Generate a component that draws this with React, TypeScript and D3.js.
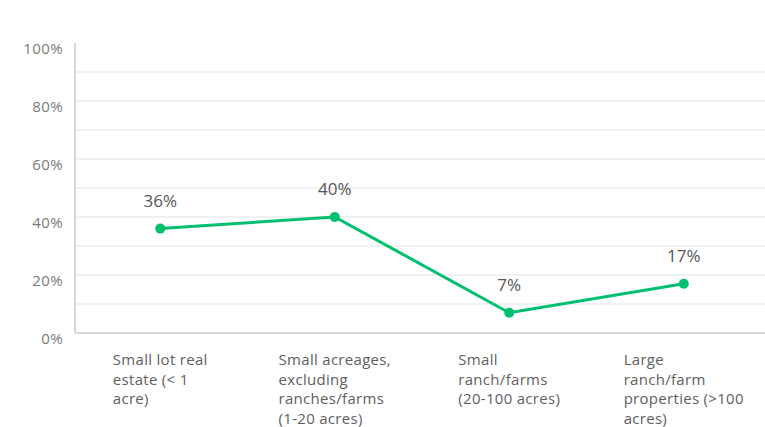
import * as d3 from "d3";
import { useEffect, useRef } from "react";

const categories = [
  ["Small lot real", "estate (< 1", "acre)"],
  ["Small acreages,", "excluding", "ranches/farms", "(1-20 acres)"],
  ["Small", "ranch/farms", "(20-100 acres)"],
  ["Large", "ranch/farm", "properties (>100", "acres)"],
];
const values = [36, 40, 7, 17];
const yTicks = [0, 20, 40, 60, 80, 100];
const gridTicks = [10, 20, 30, 40, 50, 60, 70, 80, 90];

const W = 765;
const H = 427;
const FONT = "'Open Sans', Lato, sans-serif";

//chart
const App = () => {
  const svgRef = useRef<SVGSVGElement>(null);

  useEffect(() => {
    const svg = d3.select(svgRef.current);
    svg.selectAll("*").remove();

    const left = 75;
    const x = d3
      .scalePoint<number>()
      .domain(values.map((_, i) => i))
      .range([73, 771])
      .padding(0.5);
    const y = d3.scaleLinear().domain([0, 100]).range([333, 43]);

    // grid
    svg
      .selectAll(".grid")
      .data(gridTicks)
      .enter()
      .append("line")
      .attr("x1", left)
      .attr("x2", W)
      .attr("y1", (d) => y(d))
      .attr("y2", (d) => y(d))
      .attr("stroke", "#ececec")
      .attr("stroke-width", 1.5);

    // axes
    svg
      .append("line")
      .attr("x1", left)
      .attr("x2", left)
      .attr("y1", y(100))
      .attr("y2", y(0))
      .attr("stroke", "#d8d8d8")
      .attr("stroke-width", 2);
    svg
      .append("line")
      .attr("x1", left)
      .attr("x2", W)
      .attr("y1", y(0))
      .attr("y2", y(0))
      .attr("stroke", "#d8d8d8")
      .attr("stroke-width", 2);

    svg
      .selectAll(".ytick")
      .data(yTicks)
      .enter()
      .append("text")
      .attr("x", 63)
      .attr("y", (d) => y(d) + 11)
      .attr("text-anchor", "end")
      .attr("fill", "#7a7a7a")
      .attr("font-size", "15px")
      .attr("letter-spacing", "0.4px")
      .attr("font-family", FONT)
      .text((d) => `${d}%`);

    // line
    const line = d3
      .line<number>()
      .x((_, i) => x(i) as number)
      .y((d) => y(d));
    svg
      .append("path")
      .datum(values)
      .attr("d", line)
      .attr("fill", "none")
      .attr("stroke", "#00bf6f")
      .attr("stroke-width", 3);

    svg
      .selectAll(".dot")
      .data(values)
      .enter()
      .append("circle")
      .attr("cx", (_, i) => x(i) as number)
      .attr("cy", (d) => y(d))
      .attr("r", 5)
      .attr("fill", "#00bf6f");

    svg
      .selectAll(".val")
      .data(values)
      .enter()
      .append("text")
      .attr("x", (_, i) => x(i) as number)
      .attr("y", (d) => y(d) - 22)
      .attr("text-anchor", "middle")
      .attr("fill", "#555")
      .attr("font-size", "17px")
      .attr("font-family", FONT)
      .text((d) => `${d}%`);

    // category labels: left aligned block, centered on the point
    categories.forEach((lines, i) => {
      const g = svg.append("g");
      const texts = g
        .selectAll("text")
        .data(lines)
        .enter()
        .append("text")
        .attr("y", (_, j) => 365 + j * 19.5)
        .attr("fill", "#606060")
        .attr("font-size", "15px")
        .attr("letter-spacing", "0.3px")
        .attr("font-family", FONT)
        .text((d) => d);
      let maxW = 0;
      texts.each(function () {
        maxW = Math.max(maxW, (this as SVGTextElement).getComputedTextLength());
      });
      texts.attr("x", (x(i) as number) - maxW / 2);
    });
  }, []);

  return (
    <svg
      ref={svgRef}
      width={W}
      height={H}
      style={{ position: "absolute", left: 0, top: 0, background: "#fff" }}
    ></svg>
  );
};

export default App;
